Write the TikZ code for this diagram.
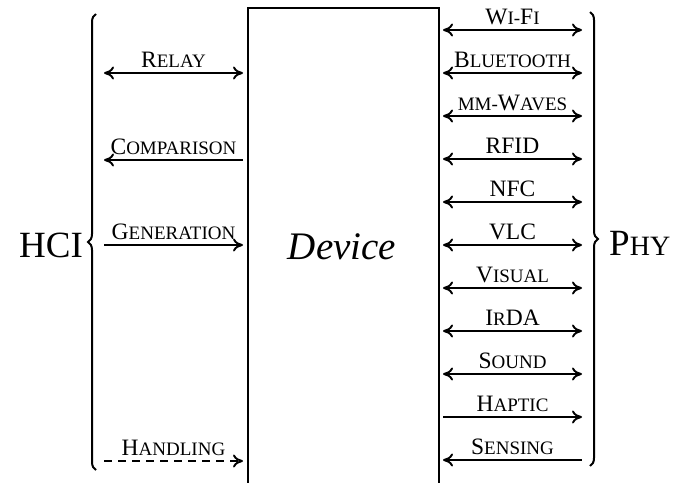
\documentclass[tikz,border=0pt]{standalone}
\usepackage{fontspec}
\setmainfont{Liberation Serif}
\usetikzlibrary{arrows.meta, decorations.pathreplacing}
% fake small caps: big first letter, small upper case rest
\newcommand{\fsc}[2]{#1{\fontsize{19}{20}\selectfont\uppercase{#2}}}

\begin{document}
\begin{tikzpicture}[x=1pt, y=-1pt,
        >={To[length=10pt, width=13pt]},
        link/.style={line width=1.9pt},
        lab/.style={font=\fontsize{23.5}{25}\selectfont, inner sep=0pt,
                    text depth=0pt, above=5pt},
        bigtext/.style={font=\fontsize{37}{40}\selectfont, inner sep=0pt},
        brace/.style={decorate, line width=2pt,
                      decoration={brace, amplitude=8pt}},
    ]
        \useasboundingbox (0,0) rectangle (693,482);

        % device box (open at the bottom)
        \draw[line width=1.7pt] (248,500) |- (439,8) -- (439,500);
        \node[bigtext, font=\fontsize{39}{42}\selectfont\itshape] (dev) at (342,247) {Device};

        % HCI side
        \coordinate (relA) at (104,73);   \coordinate (relB) at (243,73);
        \coordinate (cmpA) at (104,160);  \coordinate (cmpB) at (243,160);
        \coordinate (genA) at (104,245);  \coordinate (genB) at (243,245);
        \coordinate (hndA) at (104,461);  \coordinate (hndB) at (243,461);

        \draw[link, <->] (relA) -- node[lab] {\fsc{R}{elay}} (relB);
        \draw[link, <-] (cmpA) -- node[lab] {\fsc{C}{omparison}} (cmpB);
        \draw[link, ->] (genA) -- node[lab] {\fsc{G}{eneration}} (genB);
        \draw[link, ->, dash pattern=on 8pt off 6pt] (hndA) -- node[lab] {\fsc{H}{andling}} (hndB);

        % PHY side
        \foreach \lab/\tip [count=\i] in {
                {\fsc{W}{i-}\fsc{F}{i}}/<->,
                {\fsc{B}{luetooth}}/<->,
                {\fsc{}{mm-}\fsc{W}{aves}}/<->,
                {RFID}/<->,
                {NFC}/<->,
                {VLC}/<->,
                {\fsc{V}{isual}}/<->,
                {\fsc{I}{r}DA}/<->,
                {\fsc{S}{ound}}/<->,
                {\fsc{H}{aptic}}/->,
                {\fsc{S}{ensing}}/<-} {
            \coordinate (phy\i a) at (443,{30+43*(\i-1)});
            \coordinate (phy\i b) at (582,{30+43*(\i-1)});
            \draw[link, \tip] (phy\i a) -- node[lab] {\lab} (phy\i b);
        }

        % braces
        \draw[brace] (96,470) -- (96,14);
        \draw[brace] (590,12) -- (590,466);
        \node[bigtext] (hci) at (51,245) {HCI};
        \node[bigtext, anchor=west] (phy) at (609,243) {P{\fontsize{28}{30}\selectfont HY}};

    \end{tikzpicture}
\end{document}
